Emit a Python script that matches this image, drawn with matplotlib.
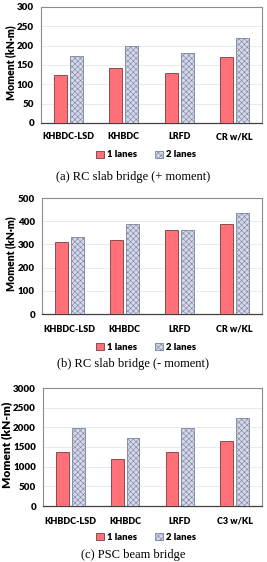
import matplotlib.pyplot as plt
import matplotlib as mpl
import numpy as np

categories_ab = ["KHBDC-LSD", "KHBDC", "LRFD", "CR w/KL"]
categories_c = ["KHBDC-LSD", "KHBDC", "LRFD", "C3 w/KL"]

pos_1lane = [124, 143, 129, 171]
pos_2lane = [173, 200, 182, 220]

neg_1lane = [311, 320, 360, 388]
neg_2lane = [330, 390, 360, 437]

psc_1lane = [1380, 1205, 1380, 1640]
psc_2lane = [1990, 1730, 1980, 2250]

legend_labels = ["1 lanes", "2 lanes"]
ylabels = ["Moment (kN·m)", "Moment (kN·m)", "Moment (kN-m)"]
captions = ["(a) RC slab bridge (+ moment)",
            "(b) RC slab bridge (- moment)",
            "(c) PSC beam bridge"]

mpl.rcParams['hatch.color'] = '#7c829c'
mpl.rcParams['hatch.linewidth'] = 0.4
plt.rcParams['font.family'] = ['Lato', 'DejaVu Sans']

W, H = 267, 562
fig = plt.figure(figsize=(W / 100, H / 100), dpi=100)


def px_axes(left, top, right, bottom):
    return fig.add_axes([left / W, 1 - bottom / H, (right - left) / W, (bottom - top) / H])


def panel(ax, cats, v1, v2, ymax, step, cat_y, leg_y, cap_y, caption,
          ylabel, ylab_x, ylab_size, tick_size):
    x = np.arange(len(cats))
    w = 0.235
    b1 = ax.bar(x - 0.145, v1, w, color='#ff7079', edgecolor='#7a3a3e', linewidth=0.6, zorder=3)
    b2 = ax.bar(x + 0.145, v2, w, color='#d4d8ea', edgecolor='#7c829c', linewidth=0.6,
                hatch='xxxxxx', zorder=3)
    ax.set_xlim(-0.5, len(cats) - 0.5)
    ax.set_ylim(0, ymax)
    ax.set_yticks(np.arange(0, ymax + 1, step))
    ax.set_xticks([])
    ax.tick_params(axis='y', length=0, pad=5, labelsize=tick_size)
    for lab in ax.get_yticklabels():
        lab.set_fontweight('heavy')
    ax.yaxis.grid(True, color='#e6e6e6', linewidth=0.6, zorder=0)
    for s in ['top', 'right', 'left']:
        ax.spines[s].set_color('#8c8c8c')
        ax.spines[s].set_linewidth(0.8)
    ax.spines['bottom'].set_color('#404040')
    ax.spines['bottom'].set_linewidth(0.9)
    # y label placed in figure pixels
    bb = ax.get_position()
    fig.text(ylab_x / W, bb.y0 + bb.height / 2 + 0.004, ylabel, rotation=90,
             ha='center', va='center', fontsize=ylab_size, fontweight='heavy')
    # category labels below the plot
    for xi, c in zip(x, cats):
        xd = ax.transData.transform((xi, 0))[0]
        fig.text(xd / W, 1 - cat_y / H, c, ha='center', va='center',
                 fontsize=6.5, fontweight='heavy')
    fig.legend([b1, b2], legend_labels, loc='center', ncol=2,
               bbox_to_anchor=(146 / W, 1 - leg_y / H), frameon=False,
               prop={'size': 6.8, 'weight': 'heavy'}, handlelength=0.8,
               handleheight=0.8, handletextpad=0.3, columnspacing=2.0)
    fig.text(133 / W, 1 - cap_y / H, caption, ha='center', va='center',
             fontsize=9, family=['Liberation Serif', 'DejaVu Serif'])


ax_a = px_axes(41, 7, 262, 123)
panel(ax_a, categories_ab, pos_1lane, pos_2lane, 300, 50, 137, 155, 177, captions[0],
      ylabels[0], 11, 7.6, 7)

ax_b = px_axes(42, 198, 262, 314)
panel(ax_b, categories_ab, neg_1lane, neg_2lane, 500, 100, 329, 347, 364, captions[1],
      ylabels[1], 11, 7.6, 7)

ax_c = px_axes(43, 388, 262, 506)
panel(ax_c, categories_c, psc_1lane, psc_2lane, 3000, 500, 521, 537, 555, captions[2],
      ylabels[2], 6.5, 8.6, 7)

fig.savefig("out.png", dpi=100)
